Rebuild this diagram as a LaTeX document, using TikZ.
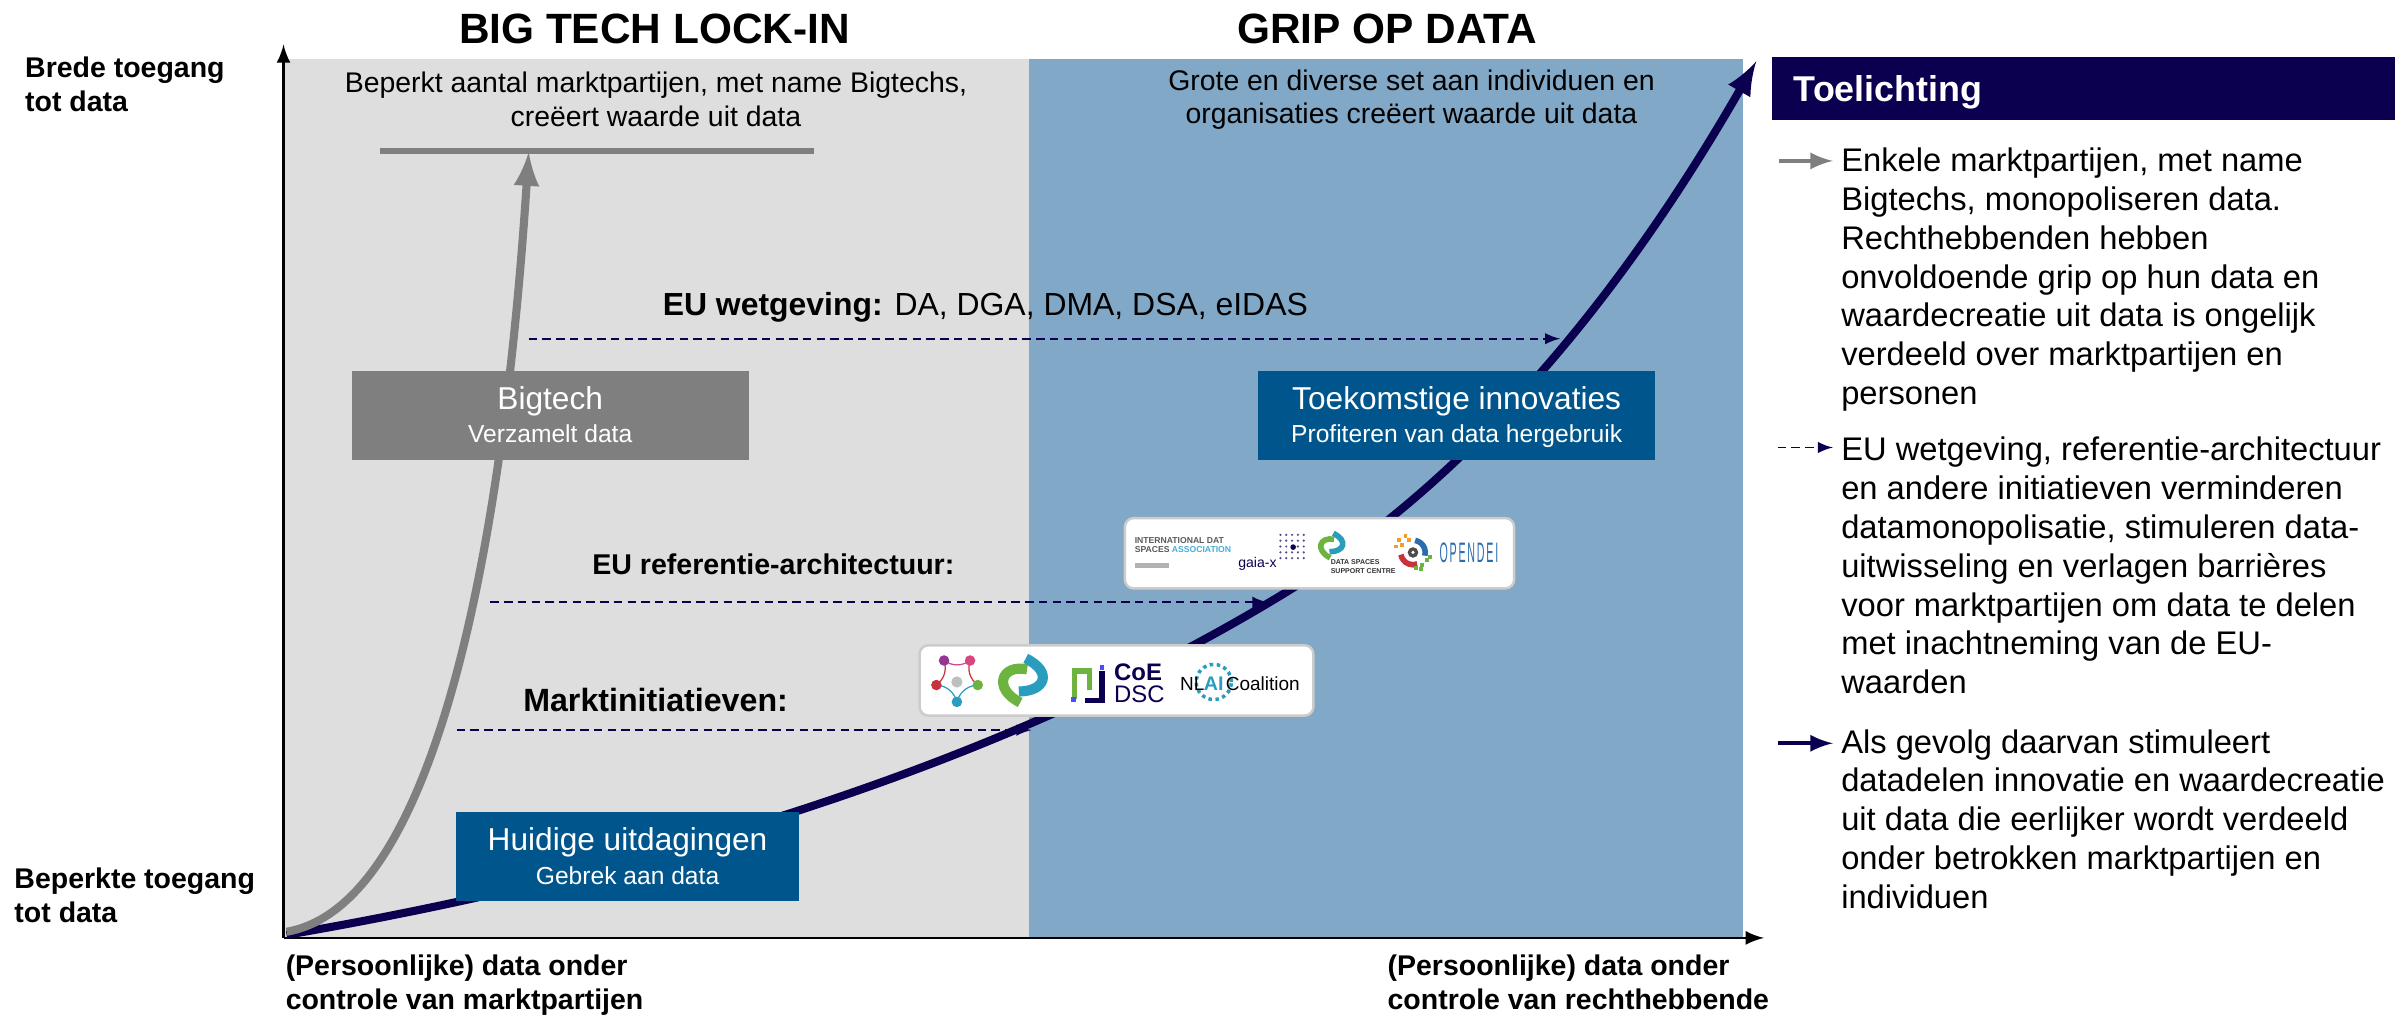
\documentclass[tikz,border=0pt]{standalone}
\usepackage{fontspec}
\setmainfont{Liberation Sans}
\definecolor{navy}{HTML}{0B0050}
\definecolor{panelgray}{HTML}{DEDEDE}
\definecolor{panelblue}{HTML}{81A8C6}
\definecolor{boxblue}{HTML}{00558C}
\definecolor{midgray}{HTML}{7F7F7F}
\definecolor{logogreen}{HTML}{6CB33F}
\definecolor{logoteal}{HTML}{2A9DBF}
\definecolor{logocyan}{HTML}{45AEDD}
\definecolor{logored}{HTML}{C8323C}
\definecolor{logoorange}{HTML}{F39C28}
\definecolor{logoblue}{HTML}{2B6CB0}
\definecolor{logopink}{HTML}{D8457F}
\definecolor{logopurple}{HTML}{96358F}
\newcommand{\stagetext}[2]{\rule{0pt}{8.1pt}#1\\{\fontsize{7}{9}\selectfont #2\rule[-2pt]{0pt}{2pt}}}
\begin{document}
\begin{tikzpicture}[x=0.015325cm, y=-0.015325cm,
    title/.style={font=\fontsize{12.05}{15}\selectfont\bfseries, inner sep=0},
    axislabel/.style={font=\fontsize{8.1}{9.6}\selectfont\bfseries, align=left, inner sep=0, anchor=west},
    paneltext/.style={font=\fontsize{8.08}{9.6}\selectfont, align=center, inner sep=0},
    midlabel/.style={font=\fontsize{9.08}{10}\selectfont, inner sep=0, anchor=west},
    stagebox/.style={minimum width=113pt, minimum height=25.3pt, inner sep=0, text=white, align=center, fill=boxblue,
      font=\fontsize{9}{9.6}\selectfont},
    legendtext/.style={font=\fontsize{9.3}{11.05}\selectfont, align=left, inner sep=0, anchor=west},
    logobox/.style={draw=black!20, line width=.7pt, fill=white, rounded corners=2.5pt, minimum height=20pt, inner sep=0},
    logotext/.style={inner sep=0, align=left},
    axis/.style={draw=black, line width=.8pt, -latex},
    growth/.style={line width=2.3pt, -latex},
    policy/.style={navy, line width=.5pt, dashed, dash pattern=on 2.4pt off 1.5pt, -latex}]
    \useasboundingbox (0, 0) rectangle (1568, 663.6);

    % panels
    \node [fill=panelgray, inner sep=0, minimum width=211.9pt, minimum height=250.3pt, anchor=north west] (left) at (185, 38) {};
    \node [fill=panelblue, inner sep=0, minimum width=203.2pt, minimum height=250.3pt, anchor=north west] (right) at (671, 38) {};
    \node [title] (t1) at (427, 19) {BIG TECH LOCK-IN};
    \node [title] (t2) at (905, 19) {GRIP OP DATA};
    \node [paneltext] (p1) at (428, 65) {Beperkt aantal marktpartijen, met name Bigtechs,\\creëert waarde uit data};
    \node [paneltext] (p2) at (921, 65) {Grote en diverse set aan individuen en\\organisaties creëert waarde uit data};

    % axes
    \coordinate (o) at (185, 612);
    \coordinate (ytop) at (185, 29);
    \coordinate (xend) at (1151, 612);
    \draw [axis] (o) to (ytop);
    \draw [axis] (o) to (xend);
    \node [axislabel] (y1) at (16, 55) {Brede toegang\\tot data};
    \node [axislabel] (y2) at (9, 584) {Beperkte toegang\\tot data};
    \node [axislabel] (x1) at (186, 643) {(Persoonlijke) data onder\\controle van marktpartijen};
    \node [axislabel] (x2) at (905, 641) {(Persoonlijke) data onder\\controle van rechthebbende};

    % curves
    \coordinate (c0) at (187, 610);
    \coordinate (c1) at (830, 392);
    \coordinate (c2) at (1146, 40);
    \coordinate (g0) at (187, 608);
    \coordinate (g1) at (345, 99);
    \coordinate (barl) at (248, 98.5);
    \coordinate (barr) at (531, 98.5);
    \draw [navy, growth] (c0) .. controls (420, 570) and (650, 500) .. (c1) .. controls (960, 315) and (1060, 190) .. (c2);
    \draw [midgray, line width=1.5pt] (barl) to (barr);
    \draw [midgray, growth] (g0) .. controls (290, 590) and (330, 330) .. (g1);

    % boxes
    \node [stagebox, minimum width=113pt, fill=midgray] (big) at (359, 271) {\stagetext{Bigtech}{Verzamelt data}};
    \node [stagebox, minimum width=97.5pt] (now) at (409.5, 559) {\stagetext{Huidige uitdagingen}{Gebrek aan data}};
    \node [stagebox] (next) at (950.5, 271) {\stagetext{Toekomstige innovaties}{Profiteren van data hergebruik}};

    % policy lines
    \node [midlabel] (eu) at (432, 200.5) {\textbf{EU wetgeving:} DA, DGA, DMA, DSA, eIDAS};
    \node [midlabel, font=\fontsize{8.13}{9}\selectfont\bfseries] (ref) at (386, 368) {EU referentie-architectuur:};
    \node [midlabel, font=\fontsize{9.15}{10}\selectfont\bfseries] (mkt) at (341, 457) {Marktinitiatieven:};
    \coordinate (d1) at (345, 221);
    \coordinate (e1) at (1018, 221);
    \coordinate (d2) at (320, 393);
    \coordinate (e2) at (827, 393);
    \coordinate (d3) at (298, 476.4);
    \coordinate (e3) at (673, 476.4);
    \draw [policy] (d1) to (e1);
    \draw [policy] (d2) to (e2);
    \draw [policy] (d3) to (e3);

    % logos, upper box
    \node [logobox, minimum width=110.7pt] (logos1) at (861, 361) {};
    \node [logotext, anchor=west, font=\fontsize{2.45}{2.5}\selectfont\bfseries, text=black!65] (idsa) at (740, 355.5) {INTERNATIONAL DAT\\SPACES \textcolor{logocyan}{ASSOCIATION}};
    \node [fill=black!30, inner sep=0, minimum width=9.6pt, minimum height=1.6pt, anchor=west] (idsabar) at (740, 369) {};
    \node [logotext, font=\fontsize{4}{4}\selectfont, text=navy] (gaia) at (820.5, 368) {gaia-x};
    \foreach \i in {0, 1, 2, 3, 4}
      \foreach \j in {0, 1, 2, 3, 4}
        \fill [navy!70] (835.5 + 3.8 * \i, 349 + 3.8 * \j) circle (.35pt);
    \fill [navy] (843.8, 357) circle (.8pt);
    \node [logotext, font=\fontsize{2}{2.6}\selectfont\bfseries, text=black!80] (dssc) at (889.5, 369.5) {DATA SPACES\\SUPPORT CENTRE};
    \coordinate (eye) at (922, 360.5);
    \draw [logoblue, line width=1.6pt] (eye) ++(-80:8) arc [start angle=-80, end angle=15, radius=8];
    \draw [logored, line width=1.6pt] (eye) ++(-190:8) arc [start angle=-190, end angle=-290, radius=8];
    \fill [black!70] (eye) circle (1.5pt);
    \fill [white] (eye) circle (.5pt);
    \foreach \dx/\dy in {-9/-8, -5/-11, -11/-4, -7/-5, -3/-8}
      \fill [logoorange] (922 + \dx - 1.2, 360.5 + \dy - 1.2) rectangle ++(2.6, 2.6);
    \foreach \dx/\dy in {2/10, 6/8, 9/5, 5/11, 11/3}
      \fill [logogreen] (922 + \dx - 1.2, 360.5 + \dy - 1.2) rectangle ++(2.6, 2.6);
    \node [logotext, text=logoblue] (odei) at (958.5, 360.5) {\scalebox{.38}[1]{\fontsize{8}{8}\selectfont O\,P\,E\,N\,D\,E\,I}};

    % logos, lower box
    \node [logobox, minimum width=112pt] (logos2) at (728.5, 444) {};
    \coordinate (h1) at (616, 431);
    \coordinate (h2) at (633, 431);
    \coordinate (h3) at (638, 447);
    \coordinate (h4) at (624.4, 458);
    \coordinate (h5) at (611, 447);
    \foreach \a/\b/\lc in {h1/h2/logopink, h2/h3/logored, h3/h4/logoteal, h4/h5/logoteal, h5/h1/logored}
      \draw [\lc, line width=.35pt] (\a) to [bend right=35] (\b);
    \foreach \a/\lc in {h1/logopurple, h2/logopink, h3/logogreen, h4/logoteal, h5/logored}
      \fill [\lc] (\a) circle (1.5pt);
    \fill [black!25] (624.4, 445) circle (1.6pt);
    \foreach \cx/\cy/\s in {869/356/1, 667.5/444/1.8} {
      \draw [logogreen, line width=\s*1.6pt] (\cx + 1.5 * \s, \cy - 4 * \s) .. controls (\cx - 8 * \s, \cy - 6 * \s) and (\cx - 11 * \s, \cy + 3 * \s) .. (\cx - 1 * \s, \cy + 8 * \s);
      \draw [logoteal, line width=\s*1.6pt] (\cx - 1.5 * \s, \cy + 4 * \s) .. controls (\cx + 8 * \s, \cy + 4 * \s) and (\cx + 11 * \s, \cy - 3 * \s) .. (\cx + 1 * \s, \cy - 8 * \s);
    }
    \draw [logogreen, line width=1.6pt] (701, 456) to (701, 438) to (711, 438) to (711, 450);
    \draw [navy, line width=1.6pt] (719, 438) to (719, 457) to (708, 457);
    \fill [blue!70] (717.5, 434) rectangle ++(3, 3);
    \fill [blue!70] (699, 455) rectangle ++(3, 3);
    \node [logotext, font=\fontsize{6.8}{6.2}\selectfont, text=navy, align=left] (coe) at (743.5, 446) {\textbf{CoE}\\DSC};
    \draw [logoteal, line width=1pt, densely dotted] (792, 445) circle (5pt);
    \node [logotext, font=\fontsize{5.4}{6}\selectfont] (nl) at (778, 446) {NL};
    \node [logotext, font=\fontsize{5.6}{6}\selectfont\bfseries, text=logoteal] (ai) at (792, 446) {AI};
    \node [logotext, font=\fontsize{5.4}{6}\selectfont] (coal) at (824, 446) {Coalition};

    % legend
    \node [fill=navy, inner sep=0, minimum width=177pt, minimum height=17.9pt, anchor=north west] (head) at (1156, 37) {};
    \node [font=\fontsize{10.2}{12}\selectfont\bfseries, text=white, inner sep=0, anchor=west] (headt) at (1170, 60) {Toelichting};
    \node [legendtext] (l1) at (1201, 182.5) {Enkele marktpartijen, met name\\Bigtechs, monopoliseren data.\\Rechthebbenden hebben\\onvoldoende grip op hun data en\\waardecreatie uit data is ongelijk\\verdeeld over marktpartijen en\\personen};
    \node [legendtext] (l2) at (1201, 369) {EU wetgeving, referentie-architectuur\\en andere initiatieven verminderen\\datamonopolisatie, stimuleren data-\\uitwisseling en verlagen barrières\\voor marktpartijen om data te delen\\met inachtneming van de EU-\\waarden};
    \node [legendtext] (l3) at (1201, 534.5) {Als gevolg daarvan stimuleert\\datadelen innovatie en waardecreatie\\uit data die eerlijker wordt verdeeld\\onder betrokken marktpartijen en\\individuen};
    \coordinate (a1) at (1161, 105);
    \coordinate (b1) at (1196, 105);
    \coordinate (a2) at (1160, 292);
    \coordinate (b2) at (1196, 292);
    \coordinate (a3) at (1160, 485);
    \coordinate (b3) at (1196, 485);
    \draw [midgray, line width=1.2pt, -latex] (a1) to (b1);
    \draw [policy] (a2) to (b2);
    \draw [navy, line width=1.2pt, -latex] (a3) to (b3);
\end{tikzpicture}
\end{document}
